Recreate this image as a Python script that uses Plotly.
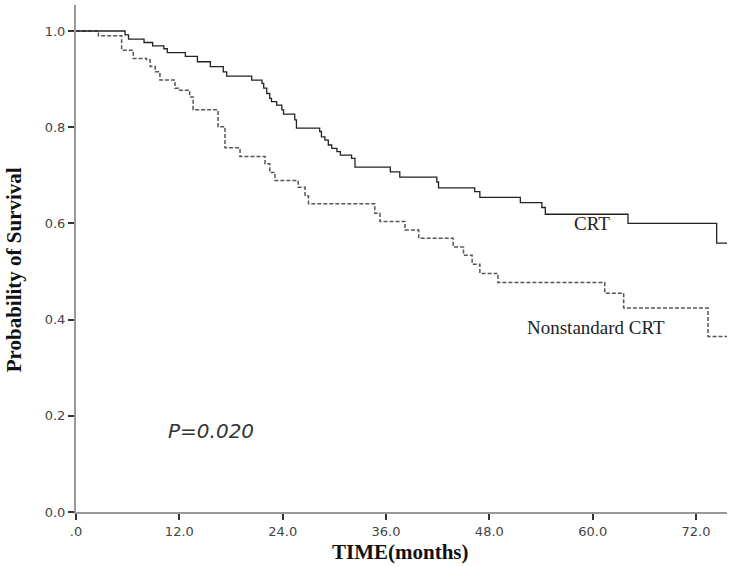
import plotly.graph_objects as go

# Kaplan-Meier step data (time in months, survival probability after event)
crt_time = [0, 5.7, 6.1, 7.9, 8.9, 10.2, 10.6, 12.7, 14.1, 15.6, 17.1, 17.5,
            20.4, 21.6, 21.8, 22.15, 22.5, 22.7, 23.3, 23.9, 24.1, 25.4, 25.6,
            28.3, 28.5, 28.9, 29.3, 29.7, 30.3, 30.7, 32.0, 32.4, 36.5, 37.6,
            41.9, 42.1, 46.3, 46.9, 51.6, 54.1, 54.5, 64.1, 74.4, 75.6]
crt_surv = [1.0, 0.992, 0.983, 0.976, 0.969, 0.963, 0.955, 0.947, 0.936, 0.926, 0.915, 0.906,
            0.898, 0.891, 0.881, 0.870, 0.860, 0.853, 0.846, 0.836, 0.827, 0.815, 0.798,
            0.791, 0.780, 0.773, 0.763, 0.756, 0.749, 0.742, 0.735, 0.717, 0.707, 0.696,
            0.686, 0.674, 0.666, 0.654, 0.643, 0.633, 0.619, 0.600, 0.559, 0.559]

ns_time = [0, 2.6, 5.3, 6.65, 8.2, 8.6, 9.2, 9.75, 11.5, 11.9, 13.2, 13.6, 16.5, 17.3,
           19.05, 21.95, 22.5, 23.1, 25.8, 26.6, 27.0, 34.7, 35.3, 38.2, 39.8, 43.8,
           45.0, 46.0, 46.9, 49.0, 61.4, 63.6, 73.4, 75.6]
ns_surv = [1.0, 0.990, 0.960, 0.943, 0.940, 0.926, 0.915, 0.898, 0.881, 0.877, 0.863, 0.836, 0.801, 0.757,
           0.739, 0.724, 0.706, 0.689, 0.675, 0.657, 0.641, 0.621, 0.604, 0.586, 0.569, 0.551,
           0.534, 0.515, 0.496, 0.477, 0.455, 0.424, 0.365, 0.365]

x_tickvals = [0, 12, 24, 36, 48, 60, 72]
x_ticktext = [".0", "12.0", "24.0", "36.0", "48.0", "60.0", "72.0"]
y_tickvals = [0.0, 0.2, 0.4, 0.6, 0.8, 1.0]
y_ticktext = ["0.0", "0.2", "0.4", "0.6", "0.8", "1.0"]

fig = go.Figure()
fig.add_trace(go.Scatter(x=ns_time, y=ns_surv, mode="lines", line_shape="hv",
                         line=dict(color="#555555", width=1.5, dash="4px,2px"),
                         name="Nonstandard CRT", showlegend=False))
fig.add_trace(go.Scatter(x=crt_time, y=crt_surv, mode="lines", line_shape="hv",
                         line=dict(color="#222222", width=1.3),
                         name="CRT", showlegend=False))

fig.add_annotation(x=59.9, y=0.599, text="CRT", showarrow=False,
                   font=dict(family="Liberation Serif", size=19, color="#222222"))
fig.add_annotation(x=60.4, y=0.383, text="Nonstandard CRT", showarrow=False,
                   font=dict(family="Liberation Serif", size=19, color="#222222"))
fig.add_annotation(x=15.7, y=0.168, text="<i>P=0.020</i>", showarrow=False,
                   font=dict(family="DejaVu Sans", size=20, color="#333333"))

# axis titles
fig.add_annotation(xref="paper", yref="paper", x=0.499, y=-0.079, text="<b>TIME(months)</b>",
                   showarrow=False, xanchor="center", yanchor="middle",
                   font=dict(family="Liberation Serif", size=21, color="#111111"))
fig.add_annotation(xref="paper", yref="paper", x=-0.095, y=0.477, text="<b>Probability of Survival</b>",
                   showarrow=False, xanchor="center", yanchor="middle", textangle=-90,
                   font=dict(family="Liberation Serif", size=21, color="#111111"))

fig.update_layout(
    width=733, height=567,
    margin=dict(l=76, r=6, t=5, b=55),
    paper_bgcolor="white", plot_bgcolor="white",
    xaxis=dict(range=[0, 75.6], tickvals=x_tickvals, ticktext=x_ticktext, automargin=False,
               showgrid=False, zeroline=False, showline=True, linecolor="#999999", linewidth=2,
               ticks="outside", ticklen=6, tickwidth=2, tickcolor="#333333",
               tickfont=dict(family="DejaVu Sans", size=13, color="#444444")),
    yaxis=dict(range=[0, 1.054], tickvals=y_tickvals, ticktext=y_ticktext, automargin=False,
               showgrid=False, zeroline=False, showline=True, linecolor="#999999", linewidth=2,
               ticks="outside", ticklen=6, tickwidth=2, tickcolor="#333333",
               tickfont=dict(family="DejaVu Sans", size=13, color="#444444")),
)

fig.write_html("out.html", config={"displayModeBar": False},
               post_script="document.body.style.margin='0';document.body.style.overflow='hidden';")
